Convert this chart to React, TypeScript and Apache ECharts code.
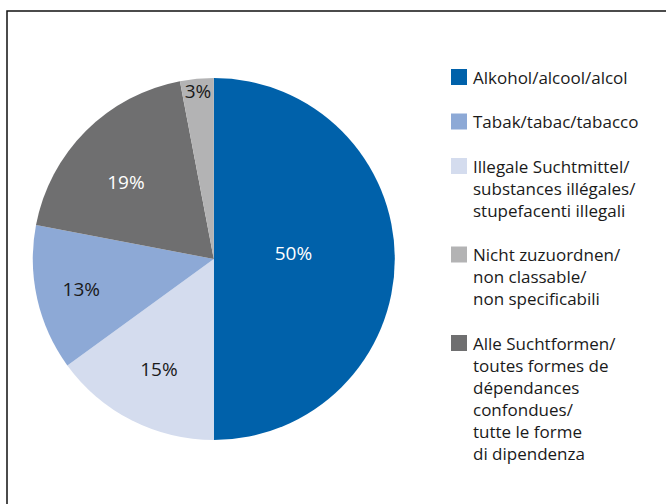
import React, { useEffect, useRef } from "react";
import * as echarts from "echarts";

// Pie slices in drawing order (clockwise from 12 o'clock)
const sliceNames = [
  "Alkohol/alcool/alcol",
  "Illegale Suchtmittel/substances illégales/stupefacenti illegali",
  "Tabak/tabac/tabacco",
  "Alle Suchtformen/toutes formes de dépendances confondues/tutte le forme di dipendenza",
  "Nicht zuzuordnen/non classable/non specificabili",
];
const sliceValues = [50, 15, 13, 19, 3];

// Legend (its own order and line breaks)
const legendLabels = [
  ["Alkohol/alcool/alcol"],
  ["Tabak/tabac/tabacco"],
  ["Illegale Suchtmittel/", "substances illégales/", "stupefacenti illegali"],
  ["Nicht zuzuordnen/", "non classable/", "non specificabili"],
  ["Alle Suchtformen/", "toutes formes de", "dépendances", "confondues/", "tutte le forme", "di dipendenza"],
];
const legendSliceIndex = [0, 2, 1, 4, 3];

// styles
const sliceColors = ["#0061AA", "#D4DCEE", "#8DA9D6", "#6F6F70", "#B3B3B4"];
const labelColors = ["#ffffff", "#1a1a1a", "#1a1a1a", "#ffffff", "#1a1a1a"];
const labelRadiusFrac = [0.44, 0.68, 0.75, 0.64, 0.93];
const labelDx = [0, 1, 0, -6, 0];
const labelDy = [-6, 0, 0, 5, 0];

const FONT = "'Open Sans', 'Noto Sans', sans-serif";
const CX = 213.8;
const CY = 259;
const R = 181;

export default function App() {
  const ref = useRef<HTMLDivElement>(null);
  useEffect(() => {
    if (!ref.current) return;
    const chart = echarts.init(ref.current, null, { renderer: "svg" });
    const total = sliceValues.reduce((a, b) => a + b, 0);
    const midAngles: number[] = [];
    let acc = 0;
    sliceValues.forEach((v) => {
      midAngles.push(((acc + v / 2) / total) * Math.PI * 2);
      acc += v;
    });

    const graphics: any[] = [
      {
        type: "rect",
        shape: { x: 7, y: 11, width: 800, height: 700 },
        style: { fill: "none", stroke: "#111", lineWidth: 1.5 },
        silent: true,
      },
    ];
    const lineH = 22;
    const gap = 22.5;
    let centerY = 77;
    legendLabels.forEach((lines, i) => {
      graphics.push({
        type: "rect",
        shape: { x: 451, y: centerY - 8, width: 16, height: 16 },
        style: { fill: sliceColors[legendSliceIndex[i]] },
      });
      graphics.push({
        type: "text",
        x: 473,
        y: centerY - lineH / 2,
        style: {
          text: lines.join("\n"),
          fill: "#1a1a1a",
          font: `17px ${FONT}`,
          fontSize: 17,
          fontFamily: FONT,
          lineHeight: lineH,
          verticalAlign: "top",
          align: "left",
        },
      });
      centerY += lines.length * lineH + gap;
    });

    chart.setOption({
      animation: false,
      backgroundColor: "#ffffff",
      graphic: graphics,
      series: [
        {
          type: "pie",
          center: [CX, CY],
          radius: R,
          startAngle: 90,
          clockwise: true,
          avoidLabelOverlap: false,
          itemStyle: { borderWidth: 0 },
          emphasis: { disabled: true },
          label: {
            show: true,
            position: "inside",
            formatter: "{c}%",
            fontSize: 19,
            fontFamily: FONT,
          },
          labelLine: { show: false },
          labelLayout: (p: any) => {
            const i = p.dataIndex;
            const a = midAngles[i];
            const r = R * labelRadiusFrac[i];
            return {
              x: CX + r * Math.sin(a) + labelDx[i],
              y: CY - r * Math.cos(a) + labelDy[i],
            };
          },
          data: sliceNames.map((n, i) => ({
            name: n,
            value: sliceValues[i],
            itemStyle: { color: sliceColors[i] },
            label: { color: labelColors[i] },
          })),
        },
      ],
    });
    return () => chart.dispose();
  }, []);
  return (
    <div
      ref={ref}
      style={{ position: "fixed", left: 0, top: 0, width: 666, height: 504, background: "#fff" }}
    />
  );
}
